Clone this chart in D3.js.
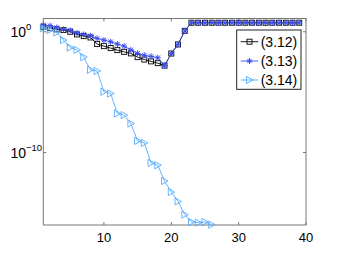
<!DOCTYPE html>
<html><head><meta charset="utf-8">
<script src="https://cdn.jsdelivr.net/npm/d3@7/dist/d3.min.js"></script>
<style>body{margin:0;background:#fff;}svg{display:block;font-family:"Liberation Sans",Arial,sans-serif;}</style>
</head><body>
<svg id="c" width="338" height="254"></svg>
<script>
// log10 of the plotted values
const iters = d3.range(1, 40);
const s312 = [0.42,0.3,0.2,0.14,0.0,-0.22,-0.36,-0.47,-1.02,-1.19,-1.35,-1.52,-1.66,-1.79,-2.1,-2.3,-2.45,-2.6,-2.8,
  -1.8,-1.05,0.08,0.75,0.75,0.75,0.75,0.75,0.75,0.75,0.75,0.75,0.75,0.75,0.75,0.75,0.75,0.75,0.75,0.75];
const s313 = [0.55,0.5,0.35,0.2,0.12,-0.1,-0.22,-0.33,-0.55,-0.69,-0.83,-1.02,-1.19,-1.5,-1.79,-1.95,-2.04,-2.15,-2.8,
  -1.8,-1.05,0.08,0.75,0.75,0.75,0.75,0.75,0.75,0.75,0.75,0.75,0.75,0.75,0.75,0.75,0.75,0.75,0.75,0.75];
const s314 = [0.3,0.14,-0.05,-0.69,-1.3,-1.5,-2.1,-3.15,-3.25,-4.97,-5.11,-6.77,-6.9,-7.6,-9.04,-9.2,-10.86,-11.05,-12.35,
  -13.27,-14.05,-15.14,-15.75,-15.8,-15.75,-15.97];
const legendLabels = ["(3.12)","(3.13)","(3.14)"];
const yTicks = [0, -10];
const xTicks = [10, 20, 30, 40];

const svg = d3.select("#c");
const L = 43.3, R = 306, T = 18.5, B = 225;
const x = d3.scaleLinear().domain([1, 40]).range([L, R]);
const y = d3.scaleLog().domain([1e-16, Math.pow(10, 1.1)]).range([B, T]);

const axisCol = "#777";
// frame
svg.append("rect").attr("x", L).attr("y", T).attr("width", R - L).attr("height", B - T)
  .attr("fill", "none").attr("stroke", axisCol).attr("stroke-width", 1);

// ticks (inside, mirrored)
const tl = 3;
xTicks.forEach(t => {
  const px = x(t);
  svg.append("line").attr("x1", px).attr("x2", px).attr("y1", B).attr("y2", B - tl).attr("stroke", axisCol);
  svg.append("line").attr("x1", px).attr("x2", px).attr("y1", T).attr("y2", T + tl).attr("stroke", axisCol);
  svg.append("text").attr("x", px).attr("y", 241.5).attr("text-anchor", "middle")
    .attr("font-size", 13).attr("fill", "#000").text(t);
});
yTicks.forEach(e => {
  const py = y(Math.pow(10, e));
  svg.append("line").attr("x1", L).attr("x2", L + tl).attr("y1", py).attr("y2", py).attr("stroke", axisCol);
  svg.append("line").attr("x1", R).attr("x2", R - tl).attr("y1", py).attr("y2", py).attr("stroke", axisCol);
  svg.append("text").attr("x", 26).attr("y", py + 5.5).attr("text-anchor", "end")
    .attr("font-size", 14).attr("fill", "#000").text("10");
  svg.append("text").attr("x", 26).attr("y", py - 1.5).attr("text-anchor", "start")
    .attr("font-size", 9.5).attr("fill", "#000").text(e === 0 ? "0" : "\u2212" + Math.abs(e));
});

const series = [
  {vals: s312, color: "#000000", marker: "square"},
  {vals: s313, color: "#3a4cf0", marker: "star"},
  {vals: s314, color: "#55aaff", marker: "tri"}
];

function drawMarker(g, type, color) {
  if (type === "square") {
    g.append("rect").attr("x", -2.5).attr("y", -2.5).attr("width", 5).attr("height", 5)
      .attr("fill", "none").attr("stroke", color).attr("stroke-width", 0.9);
  } else if (type === "star") {
    const r = 3, d = 2.2;
    g.append("path").attr("d", `M${-r},0L${r},0M0,${-r}L0,${r}M${-d},${-d}L${d},${d}M${-d},${d}L${d},${-d}`)
      .attr("stroke", color).attr("stroke-width", 1).attr("fill", "none");
  } else {
    g.append("path").attr("d", "M3.5,0L-3,-3.6L-3,3.6Z")
      .attr("fill", "none").attr("stroke", color).attr("stroke-width", 0.9);
  }
}

const plot = svg.append("g");
series.forEach(s => {
  const pts = s.vals.map((v, i) => [iters[i], Math.pow(10, v)]);
  const line = d3.line().x(d => x(d[0])).y(d => y(d[1]));
  plot.append("path").attr("d", line(pts)).attr("fill", "none").attr("stroke", s.color).attr("stroke-width", 0.9);
  pts.forEach(p => {
    const g = plot.append("g").attr("transform", `translate(${x(p[0])},${y(p[1])})`);
    drawMarker(g, s.marker, s.color);
  });
});

// legend
const lg = svg.append("g");
lg.append("rect").attr("x", 236.7).attr("y", 30).attr("width", 64.3).attr("height", 59.3)
  .attr("fill", "#fff").attr("stroke", "#222").attr("stroke-width", 1);
const legY = [41.7, 61, 80];
series.forEach((s, i) => {
  lg.append("line").attr("x1", 240.7).attr("x2", 258.3).attr("y1", legY[i]).attr("y2", legY[i])
    .attr("stroke", s.color).attr("stroke-width", 0.9);
  drawMarker(lg.append("g").attr("transform", `translate(249.5,${legY[i]})`), s.marker, s.color);
  lg.append("text").attr("x", 260.7).attr("y", legY[i] + 5).attr("font-size", 14).attr("fill", "#000")
    .text(legendLabels[i]);
});
</script>
</body></html>
